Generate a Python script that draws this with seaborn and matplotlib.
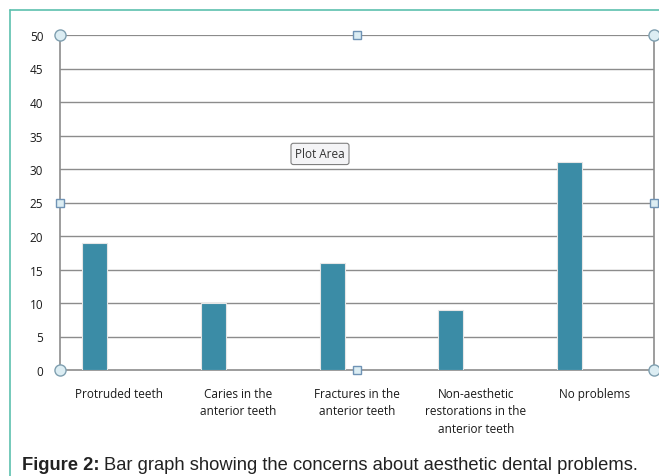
import matplotlib
matplotlib.use("Agg")
import pandas as pd
import matplotlib.pyplot as plt
import seaborn as sns
from matplotlib.lines import Line2D

categories = ["Protruded teeth", "Caries in the\nanterior teeth", "Fractures in the\nanterior teeth",
              "Non-aesthetic\nrestorations in the\nanterior teeth", "No problems"]
counts = [19, 10, 16, 9, 31]
y_ticks = [0, 5, 10, 15, 20, 25, 30, 35, 40, 45, 50]

bar_color = "#3b8ca6"
grid_color = "#8c8c8c"
frame_teal = "#5cc0ae"

sns.set_style("white")
plt.rcParams["font.family"] = ["Open Sans", "DejaVu Sans"]

fig = plt.figure(figsize=(6.59, 4.77), dpi=100)
ax = fig.add_axes([60 / 659, 1 - 371 / 477, 594 / 659, 335 / 477])

# bars sit left of the category centre (empty second series in the original)
df = pd.DataFrame({"pos": [i - 0.21 for i in range(len(categories))], "count": counts})
sns.barplot(data=df, x="pos", y="count", native_scale=True, width=0.21,
            color=bar_color, saturation=1, edgecolor="#e6e6e6", linewidth=0.8, ax=ax, zorder=3)

ax.set_xlim(-0.5, len(categories) - 0.5)
ax.set_ylim(0, 50)
ax.set_yticks(y_ticks)
ax.set_yticklabels([str(v) for v in y_ticks], fontsize=8.5, color="#1a1a1a")
for v in y_ticks[1:]:
    ax.axhline(v, color=grid_color, lw=1.0 if v < 50 else 1.6, zorder=1)

ax.set_xticks([i - 0.5 for i in range(len(categories) + 1)])
ax.set_xticklabels([])
ax.set_xticks(range(len(categories)), minor=True)
ax.set_xticklabels(categories, minor=True, fontsize=8.5, color="#1a1a1a", linespacing=1.45, va="top")
ax.tick_params(axis="x", which="major", length=5, width=1, color=grid_color, direction="out")
ax.tick_params(axis="x", which="minor", length=0, pad=12)
ax.tick_params(axis="y", length=6, width=1, color=grid_color, direction="out", pad=6)
ax.set_xlabel("")
ax.set_ylabel("")

for side in ["left", "bottom", "right"]:
    ax.spines[side].set_visible(True)
    ax.spines[side].set_color(grid_color)
    ax.spines[side].set_linewidth(1.2)
ax.spines["top"].set_visible(False)

# selection handles of the plot area
for hx, hy in [(0, 0), (0, 1), (1, 0), (1, 1)]:
    ax.plot(hx, hy, "o", ms=8, mfc="#dcedf3", mec="#7f9fb0", mew=1, transform=ax.transAxes,
            clip_on=False, zorder=6)
for hx, hy in [(0.5, 0), (0.5, 1), (0, 0.5), (1, 0.5)]:
    ax.plot(hx, hy, "s", ms=6, mfc="#dcedf3", mec="#6f93b5", mew=1, transform=ax.transAxes,
            clip_on=False, zorder=6)

ax.text(0.4377, 0.645, "Plot Area", transform=ax.transAxes, ha="center", va="center",
        fontsize=8.5, color="#333333", zorder=7,
        bbox=dict(boxstyle="round,pad=0.35,rounding_size=0.2", fc="#f4f4f6", ec="#808080", lw=0.8))

# outer frame lines
fig.add_artist(Line2D([10 / 659, 10 / 659], [0, 1 - 11 / 477], color=frame_teal, lw=1.2))
fig.add_artist(Line2D([10 / 659, 1], [1 - 11 / 477, 1 - 11 / 477], color=frame_teal, lw=1.2))

# caption
cap_y = 1 - 466 / 477
t1 = fig.text(22 / 659, cap_y, "Figure 2:", fontsize=13.2, fontweight="bold",
              family=["Liberation Sans", "DejaVu Sans"], color="#222222", va="center")
fig.canvas.draw()
bb = t1.get_window_extent(renderer=fig.canvas.get_renderer())
fig.text(bb.x1 / fig.bbox.width + 4 / 659, cap_y,
         "Bar graph showing the concerns about aesthetic dental problems.",
         fontsize=13.2, family=["Liberation Sans", "DejaVu Sans"], color="#222222", va="center")

fig.savefig("out.png", dpi=100)
